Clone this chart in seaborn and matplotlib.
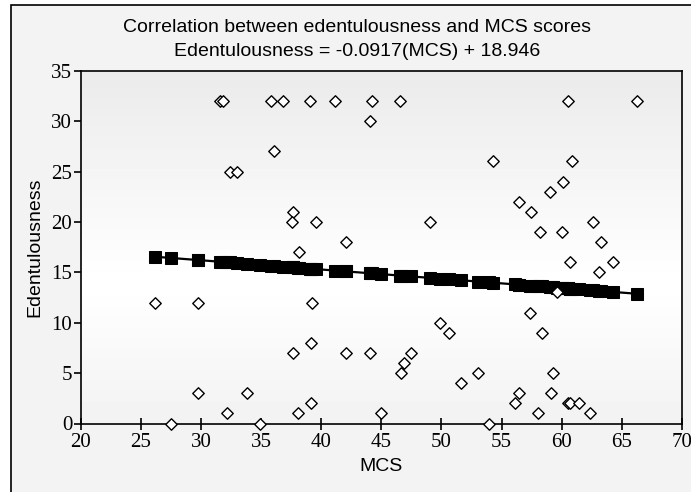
import numpy as np
import pandas as pd
import matplotlib
matplotlib.use("Agg")
import matplotlib.pyplot as plt
from matplotlib.patches import Rectangle
import seaborn as sns

mcs = [31.6, 31.8, 35.8, 36.85, 39.07, 41.15, 44.24, 46.58, 60.54, 66.22,
       44.06, 36.08, 54.25, 60.85, 32.4, 32.97, 60.13, 59.05, 56.45,
       37.63, 57.47, 37.55, 39.57, 49.04, 62.6, 58.2, 60.0, 42.1, 63.3,
       38.15, 60.68, 64.23, 63.07, 59.63, 26.18, 29.79, 39.2, 57.36,
       49.88, 50.63, 58.36, 39.12, 37.63, 42.06, 44.06, 47.47, 46.88,
       46.66, 53.0, 59.24, 51.6, 29.79, 33.8, 56.45, 59.07,
       39.12, 56.14, 60.54, 60.72, 61.45, 32.2, 38.05, 45.0, 58.05, 62.37,
       27.49, 34.95, 53.95]
edent = [32, 32, 32, 32, 32, 32, 32, 32, 32, 32,
         30, 27, 26, 26, 25, 25, 24, 23, 22,
         21, 21, 20, 20, 20, 20, 19, 19, 18, 18,
         17, 16, 16, 15, 13, 12, 12, 12, 11,
         10, 9, 9, 8, 7, 7, 7, 7, 6,
         5, 5, 5, 4, 3, 3, 3, 3,
         2, 2, 2, 2, 2, 1, 1, 1, 1, 1,
         0, 0, 0]

# regression line as printed in the title
slope = -0.0917
intercept = 18.946

df = pd.DataFrame({"MCS": mcs, "Edentulousness": edent})
df["Fitted"] = intercept + slope * df["MCS"]

fig = plt.figure(figsize=(6.91, 4.92), dpi=100, facecolor="white")
# outer frame of the original chart area
fig.patches.append(Rectangle((11 / 691, -0.05), 1.0, 1 - 5 / 492 + 0.05,
                             transform=fig.transFigure, facecolor="#f3f3f3",
                             edgecolor="black", linewidth=1.2, zorder=-1))
ax = fig.add_axes([80.6 / 691, (492 - 423.5) / 492, (682 - 80.6) / 691, (423.5 - 70.7) / 492])

# soft vertical gradient behind the plot
grad = np.concatenate([np.linspace(0.92, 1.0, 60), np.linspace(1.0, 0.95, 40)])[:, None]
ax.imshow(grad, cmap="gray", vmin=0, vmax=1, extent=[0, 1, 0, 1],
          transform=ax.transAxes, aspect="auto", zorder=0)

sns.lineplot(data=df.sort_values("MCS"), x="MCS", y="Fitted", ax=ax, color="black",
             marker="s", markersize=8, markeredgecolor="black", linewidth=1.6,
             zorder=3, errorbar=None, estimator=None)
sns.scatterplot(data=df, x="MCS", y="Edentulousness", ax=ax, marker="D", s=34,
                facecolor="white", edgecolor="black", linewidth=1.0, zorder=4,
                clip_on=False)

ax.set_xlim(20, 70)
ax.set_ylim(0, 35)
ax.set_xticks(range(20, 71, 5))
ax.set_yticks(range(0, 36, 5))
serif = "Liberation Serif"
for lab in ax.get_xticklabels() + ax.get_yticklabels():
    lab.set_family(serif)
    lab.set_fontsize(15)
ax.tick_params(axis="x", direction="inout", length=9, width=1.2, pad=2)
ax.tick_params(axis="y", direction="out", length=5, width=1.2, pad=1)
for sp in ax.spines.values():
    sp.set_linewidth(1.2)
ax.set_xlabel("MCS", family="Liberation Sans", fontsize=14, labelpad=5)
ax.set_ylabel("Edentulousness", family="Liberation Sans", fontsize=14, labelpad=6)

fig.text(357 / 691, 1 - 28 / 492, "Correlation between edentulousness and MCS scores",
         ha="center", va="center", family="Liberation Sans", fontsize=14)
fig.text(357 / 691, 1 - 52 / 492, "Edentulousness = -0.0917(MCS) + 18.946",
         ha="center", va="center", family="Liberation Sans", fontsize=14)

fig.savefig("out.png", dpi=100)
